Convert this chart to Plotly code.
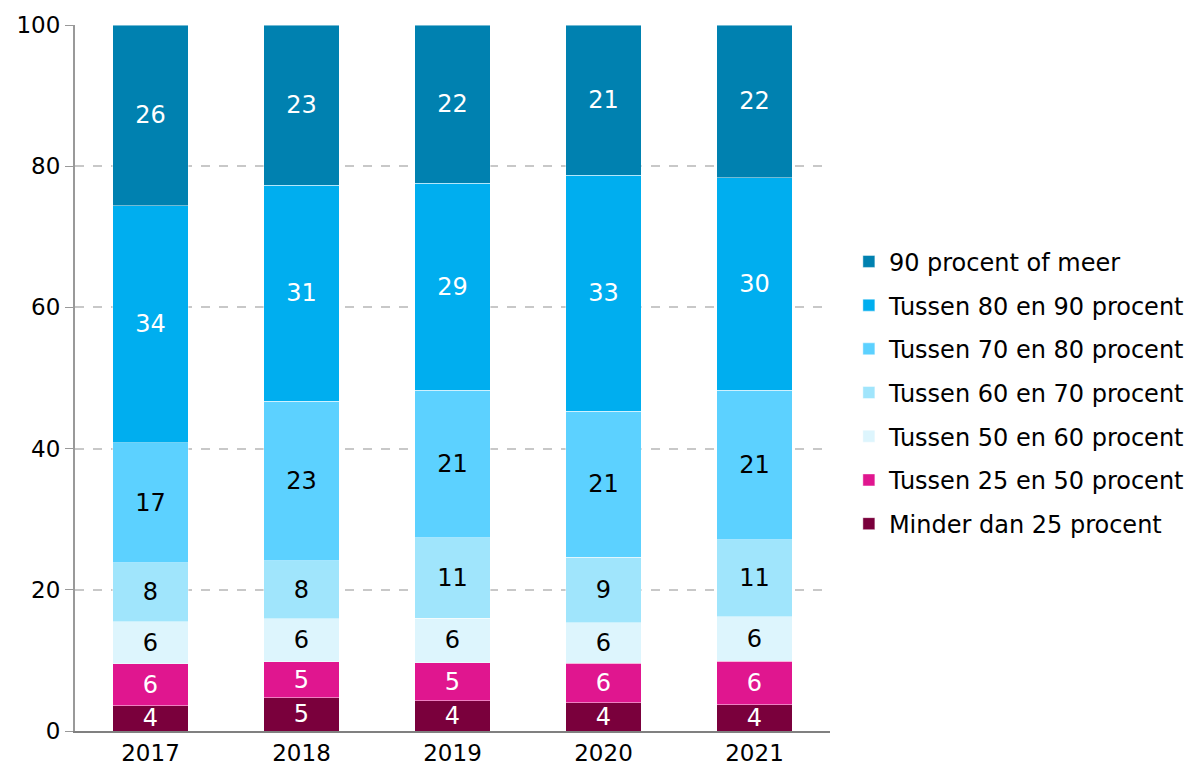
import plotly.graph_objects as go

years = ["2017", "2018", "2019", "2020", "2021"]

series_names = [
    "Minder dan 25 procent",
    "Tussen 25 en 50 procent",
    "Tussen 50 en 60 procent",
    "Tussen 60 en 70 procent",
    "Tussen 70 en 80 procent",
    "Tussen 80 en 90 procent",
    "90 procent of meer",
]

minder_25 = [3.6, 4.7, 4.3, 4.0, 3.7]
tussen_25_50 = [5.9, 5.1, 5.4, 5.6, 6.2]
tussen_50_60 = [6.0, 6.1, 6.3, 5.7, 6.3]
tussen_60_70 = [8.3, 8.2, 11.4, 9.3, 10.9]
tussen_70_80 = [17.0, 22.6, 20.9, 20.7, 21.2]
tussen_80_90 = [33.6, 30.6, 29.3, 33.4, 30.1]
meer_90 = [25.6, 22.7, 22.4, 21.3, 21.6]

series_values = [minder_25, tussen_25_50, tussen_50_60, tussen_60_70,
                 tussen_70_80, tussen_80_90, meer_90]

colors = ["#7A003C", "#E0168F", "#DDF5FD", "#A0E5FC", "#5CD1FF", "#00AEEF", "#0081B0"]
text_colors = ["white", "white", "black", "black", "black", "white", "white"]

y_ticks = [0, 20, 40, 60, 80, 100]

FONT = "DejaVu Sans"

fig = go.Figure()
n = len(series_names)
for i, (name, vals) in enumerate(zip(series_names, series_values)):
    fig.add_trace(go.Bar(
        x=years, y=vals, name=name,
        marker=dict(color=colors[i], line=dict(color="rgba(255,255,255,0.45)", width=1)),
        texttemplate="%{y:.0f}",
        textposition="inside",
        insidetextanchor="middle",
        textangle=0,
        constraintext="none",
        textfont=dict(family=FONT, size=24, color=text_colors[i]),
        legendgroup=name,
        legendrank=n - i,
        hoverinfo="skip",
    ))

fig.update_layout(
    barmode="stack",
    bargap=0.5,
    width=1186, height=772,
    margin=dict(l=75, r=356, t=25, b=41, autoexpand=False),
    paper_bgcolor="white",
    plot_bgcolor="white",
    font=dict(family=FONT, size=23, color="black"),
    uniformtext=dict(minsize=24, mode="show"),
    legend=dict(
        x=1.025, xanchor="left",
        y=0.479, yanchor="middle",
        traceorder="grouped",
        tracegroupgap=9.5,
        font=dict(family=FONT, size=24, color="black"),
        bgcolor="rgba(0,0,0,0)",
    ),
    xaxis=dict(
        showline=True, linecolor="#808080", linewidth=2,
        ticks="", tickfont=dict(family=FONT, size=23),
        showgrid=False,
        automargin=False,
    ),
    yaxis=dict(
        range=[0, 100],
        tickvals=y_ticks,
        showline=True, linecolor="#999999", linewidth=2,
        ticks="outside", ticklen=8, tickcolor="#999999", tickwidth=1,
        showgrid=True, gridcolor="#C8C8C8", griddash="dash", gridwidth=2,
        zeroline=False,
        tickfont=dict(family=FONT, size=23),
        automargin=False,
    ),
)

fig.write_html(
    "out.html",
    config={"displayModeBar": False},
    post_script="document.body.style.margin='0px'; document.body.style.overflow='hidden';",
)
